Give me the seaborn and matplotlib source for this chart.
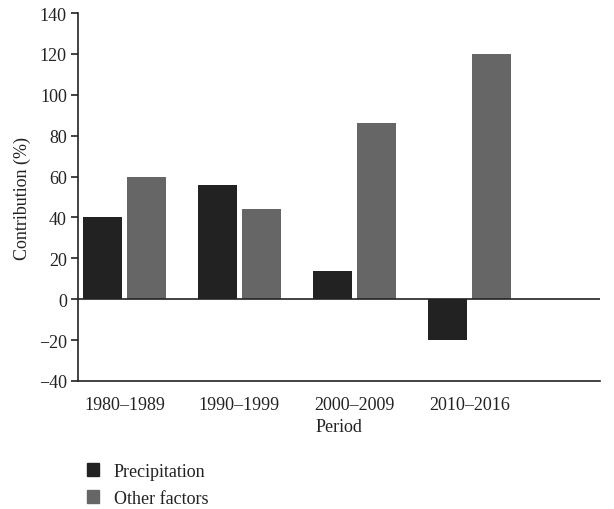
import matplotlib
matplotlib.use('Agg')
import matplotlib.pyplot as plt
import seaborn as sns
import pandas as pd

periods = ['1980–1989', '1990–1999', '2000–2009', '2010–2016']
precipitation = [40, 56, 14, -20]
other_factors = [60, 44, 86, 120]
series_names = ['Precipitation', 'Other factors']
colors = ['#222222', '#666666']

df = pd.DataFrame({
    'Period': periods * 2,
    'Contribution': precipitation + other_factors,
    'Series': [series_names[0]] * len(periods) + [series_names[1]] * len(periods),
})

sns.set_style('white')
plt.rcParams['font.family'] = ['Liberation Serif', 'DejaVu Serif']
plt.rcParams['text.color'] = '#222222'

fig = plt.figure(figsize=(6.14, 5.10), dpi=100)
ax = fig.add_axes([0.127, 0.251, 0.850, 0.7215])

sns.barplot(data=df, x='Period', y='Contribution', hue='Series',
            palette=colors, width=0.76, gap=0.1, ax=ax, legend=False,
            linewidth=0, saturation=1)

ax.set_xlim(-0.404, 4.135)
ax.set_ylim(-40, 140)
ax.set_yticks(range(-40, 141, 20))
ax.set_yticklabels([f'{v}'.replace('-', '−') for v in range(-40, 141, 20)])
ax.axhline(0, color='#222222', lw=1.2, zorder=3)

for s in ['top', 'right']:
    ax.spines[s].set_visible(False)
for s in ['left', 'bottom']:
    ax.spines[s].set_color('#222222')
    ax.spines[s].set_linewidth(1.2)

ax.tick_params(axis='y', left=True, length=5, width=1.2, color='#222222',
               labelsize=13, labelcolor='#222222', pad=3)
ax.tick_params(axis='x', bottom=False, labelsize=13, labelcolor='#222222', pad=7)
ax.set_xlabel('Period', fontsize=13, color='#222222', labelpad=4)
ax.set_ylabel('Contribution (%)', fontsize=13, color='#222222', labelpad=6)

handles = [plt.Rectangle((0, 0), 1, 1, color=c) for c in colors]
fig.legend(handles, series_names, loc='lower left', bbox_to_anchor=(0.115, -0.027),
           frameon=False, fontsize=13, handlelength=0.7, handleheight=0.7,
           handletextpad=0.8, labelspacing=0.55)

fig.savefig('out.png', dpi=100)
